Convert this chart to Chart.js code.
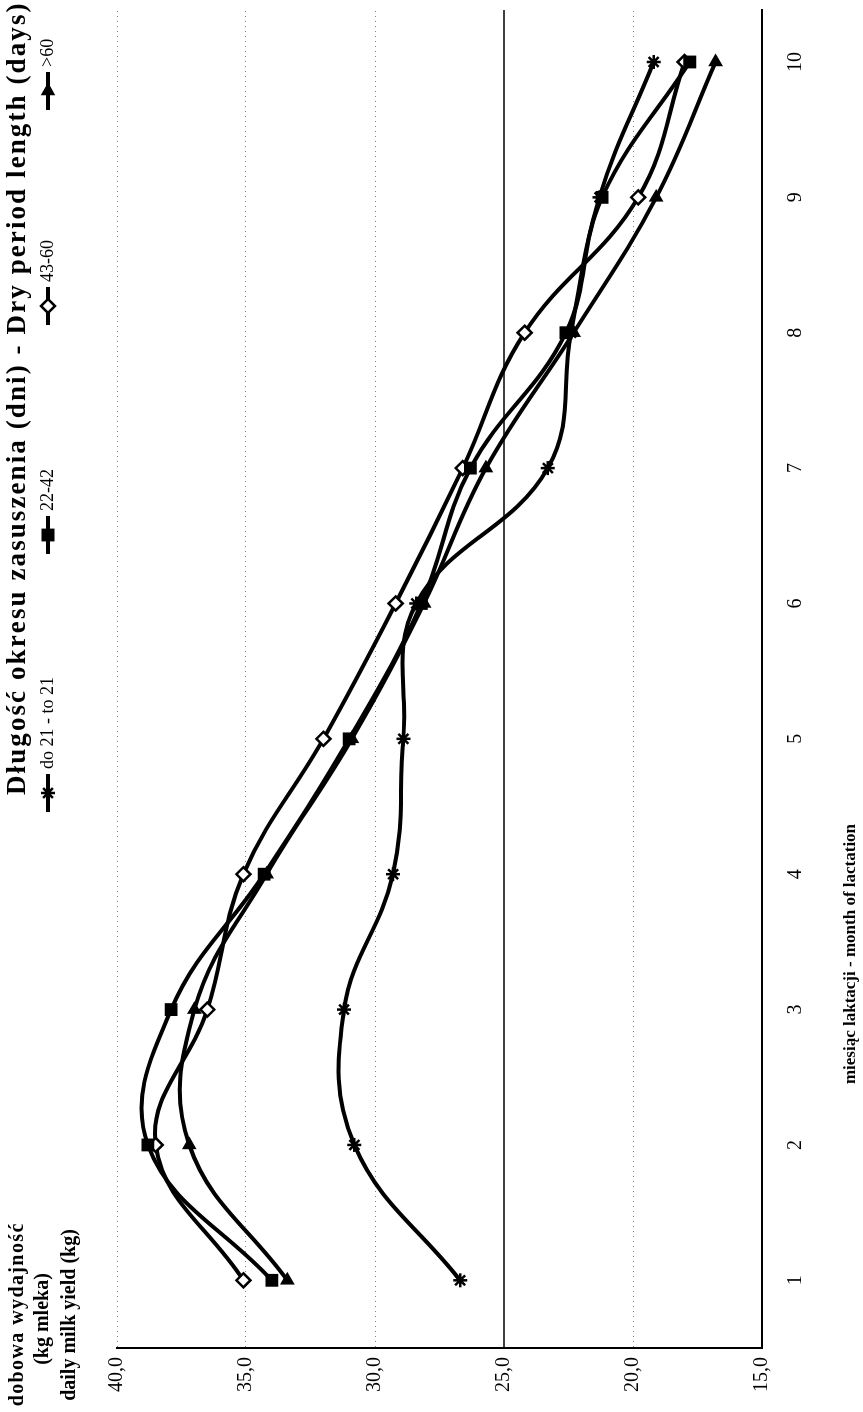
<!DOCTYPE html>
<html>
<head>
<meta charset="utf-8">
<script src="https://cdn.jsdelivr.net/npm/chart.js@4.4.1/dist/chart.umd.min.js"></script>
<style>
html, body { margin:0; padding:0; background:#fff; width:863px; height:1412px; overflow:hidden; }
#wrap { position:absolute; left:0; top:0; width:1412px; height:863px; background:#fff;
        transform-origin:0 0; transform:translate(0,1412px) rotate(-90deg); }
</style>
</head>
<body>
<div id="wrap"><canvas id="c" width="1412" height="863"></canvas></div>
<script>
// ---- data ----
const months = [1, 2, 3, 4, 5, 6, 7, 8, 9, 10];
const monthLabels = ['1', '2', '3', '4', '5', '6', '7', '8', '9', '10'];
const seriesNames = ['do 21 - to 21', '22-42', '43-60', '>60'];
const upTo21  = [26.7, 30.8, 31.2, 29.3, 28.9, 28.4, 23.3, 22.4, 21.3, 19.2];
const d22to42 = [34.0, 38.8, 37.9, 34.3, 31.0, 28.2, 26.3, 22.6, 21.2, 17.8];
const d43to60 = [35.1, 38.5, 36.5, 35.1, 32.0, 29.2, 26.6, 24.2, 19.8, 18.0];
const over60  = [33.4, 37.2, 37.0, 34.2, 30.9, 28.1, 25.7, 22.3, 19.1, 16.8];
const yTicks = [15, 20, 25, 30, 35, 40];
const referenceLine = 25;
const yTitleLines = ['dobowa wydajność', '(kg mleka)', 'daily milk yield (kg)'];
const xTitle = 'miesiąc laktacji - month of lactation';
const legendTitle = 'Długość okresu zasuszenia (dni) - Dry period length (days)';

// ---- styles / layout ----
const SERIF = "'Liberation Serif', 'Times New Roman', serif";
const markerStyles = [
  { pointStyle: 'star',     radius: 7, rotation: 0,  fill: '#000', bw: 2.5 },
  { pointStyle: 'rect',     radius: 8, rotation: 0,  fill: '#000', bw: 1.5 },
  { pointStyle: 'rectRot',  radius: 7, rotation: 0,  fill: '#fff', bw: 2.5 },
  { pointStyle: 'triangle', radius: 7, rotation: 90, fill: '#000', bw: 1.5 }
];
const legendItemX = [600, 858, 1087, 1302];
const seriesValues = [upTo21, d22to42, d43to60, over60];

const datasets = seriesValues.map((vals, i) => ({
  label: seriesNames[i],
  data: months.map((m, j) => ({ x: m, y: vals[j] })),
  borderColor: '#000',
  borderWidth: 4,
  tension: 0.4,
  fill: false,
  pointStyle: markerStyles[i].pointStyle,
  pointRadius: markerStyles[i].radius,
  pointRotation: markerStyles[i].rotation,
  pointBackgroundColor: markerStyles[i].fill,
  pointBorderColor: '#000',
  pointBorderWidth: markerStyles[i].bw
}));

// draw text with extra letter spacing (still plain canvas text)
function spacedText(ctx, text, x, y, spacing, align) {
  const chars = Array.from(text);
  const widths = chars.map(c => ctx.measureText(c).width);
  const total = widths.reduce((a, b) => a + b, 0) + spacing * (chars.length - 1);
  let cx = align === 'center' ? x - total / 2 : x;
  const saved = ctx.textAlign;
  ctx.textAlign = 'left';
  chars.forEach((c, i) => { ctx.fillText(c, cx, y); cx += widths[i] + spacing; });
  ctx.textAlign = saved;
}

const decor = {
  id: 'decor',
  beforeDatasetsDraw(chart) {
    const { ctx, chartArea, scales } = chart;
    const y = scales.y.getPixelForValue(referenceLine);
    ctx.save();
    ctx.strokeStyle = '#000';
    ctx.lineWidth = 1.5;
    ctx.beginPath();
    ctx.moveTo(chartArea.left, y);
    ctx.lineTo(chartArea.right, y);
    ctx.stroke();
    ctx.restore();
  },
  afterDraw(chart) {
    const ctx = chart.ctx;
    ctx.save();
    ctx.fillStyle = '#000';
    ctx.textBaseline = 'middle';
    // y axis title
    ctx.textAlign = 'center';
    ctx.font = 'bold 20px ' + SERIF;
    spacedText(ctx, yTitleLines[0], 97, 18, 1.4, 'center');
    ctx.fillText(yTitleLines[1], 93, 43);
    ctx.fillText(yTitleLines[2], 97, 70);
    // x axis title
    ctx.font = 'bold 17px ' + SERIF;
    ctx.fillText(xTitle, 458, 851);
    // legend title, spread over the space to the right edge
    ctx.font = 'bold 27px ' + SERIF;
    const tStart = 617, tEnd = 1408;
    const natural = ctx.measureText(legendTitle).width;
    const n = Array.from(legendTitle).length;
    const sp = Math.max(0, (tEnd - tStart - natural) / (n - 1));
    spacedText(ctx, legendTitle, tStart, 18, sp, 'left');
    // legend items
    ctx.textAlign = 'left';
    ctx.font = '18px ' + SERIF;
    seriesNames.forEach((name, i) => {
      const x0 = legendItemX[i];
      const ly = 48;
      ctx.strokeStyle = '#000';
      ctx.lineWidth = 4;
      ctx.beginPath();
      ctx.moveTo(x0, ly);
      ctx.lineTo(x0 + 38, ly);
      ctx.stroke();
      const ms = markerStyles[i];
      ctx.fillStyle = ms.fill;
      ctx.lineWidth = ms.bw;
      Chart.helpers.drawPoint(ctx, { pointStyle: ms.pointStyle, radius: ms.radius, rotation: ms.rotation, borderWidth: ms.bw }, x0 + 19, ly);
      ctx.fillStyle = '#000';
      ctx.fillText(name, x0 + 43, ly);
    });
    ctx.restore();
  }
};

new Chart(document.getElementById('c'), {
  type: 'line',
  data: { datasets },
  plugins: [decor],
  options: {
    responsive: false,
    animation: false,
    devicePixelRatio: 1,
    layout: { padding: { top: 117, right: 10, left: 0, bottom: 0 } },
    plugins: { legend: { display: false }, tooltip: { enabled: false }, title: { display: false } },
    scales: {
      x: {
        type: 'linear',
        min: 0.5,
        max: 10.384,
        afterBuildTicks: s => { s.ticks = months.map(v => ({ value: v })); },
        afterFit: s => { s.height = 101; },
        ticks: {
          callback: v => monthLabels[months.indexOf(v)],
          font: { family: SERIF, size: 20 },
          color: '#000',
          padding: 22,
          autoSkip: false,
          maxRotation: 0
        },
        grid: { display: true, drawOnChartArea: false, drawTicks: false },
        border: { display: true, color: '#000', width: 2 }
      },
      y: {
        min: 15,
        max: 40,
        afterBuildTicks: s => { s.ticks = yTicks.map(v => ({ value: v })); },
        afterFit: s => { s.width = 64; },
        ticks: {
          callback: v => v.toFixed(1).replace('.', ','),
          font: { family: SERIF, size: 20 },
          color: '#000',
          padding: 9
        },
        grid: {
          drawTicks: false,
          lineWidth: 1,
          color: c => (c.tick && (c.tick.value === referenceLine || c.tick.value === 15)) ? 'rgba(0,0,0,0)' : '#808080'
        },
        border: { display: true, color: '#000', width: 2, dash: [1, 4] }
      }
    }
  }
});
</script>
</body>
</html>
